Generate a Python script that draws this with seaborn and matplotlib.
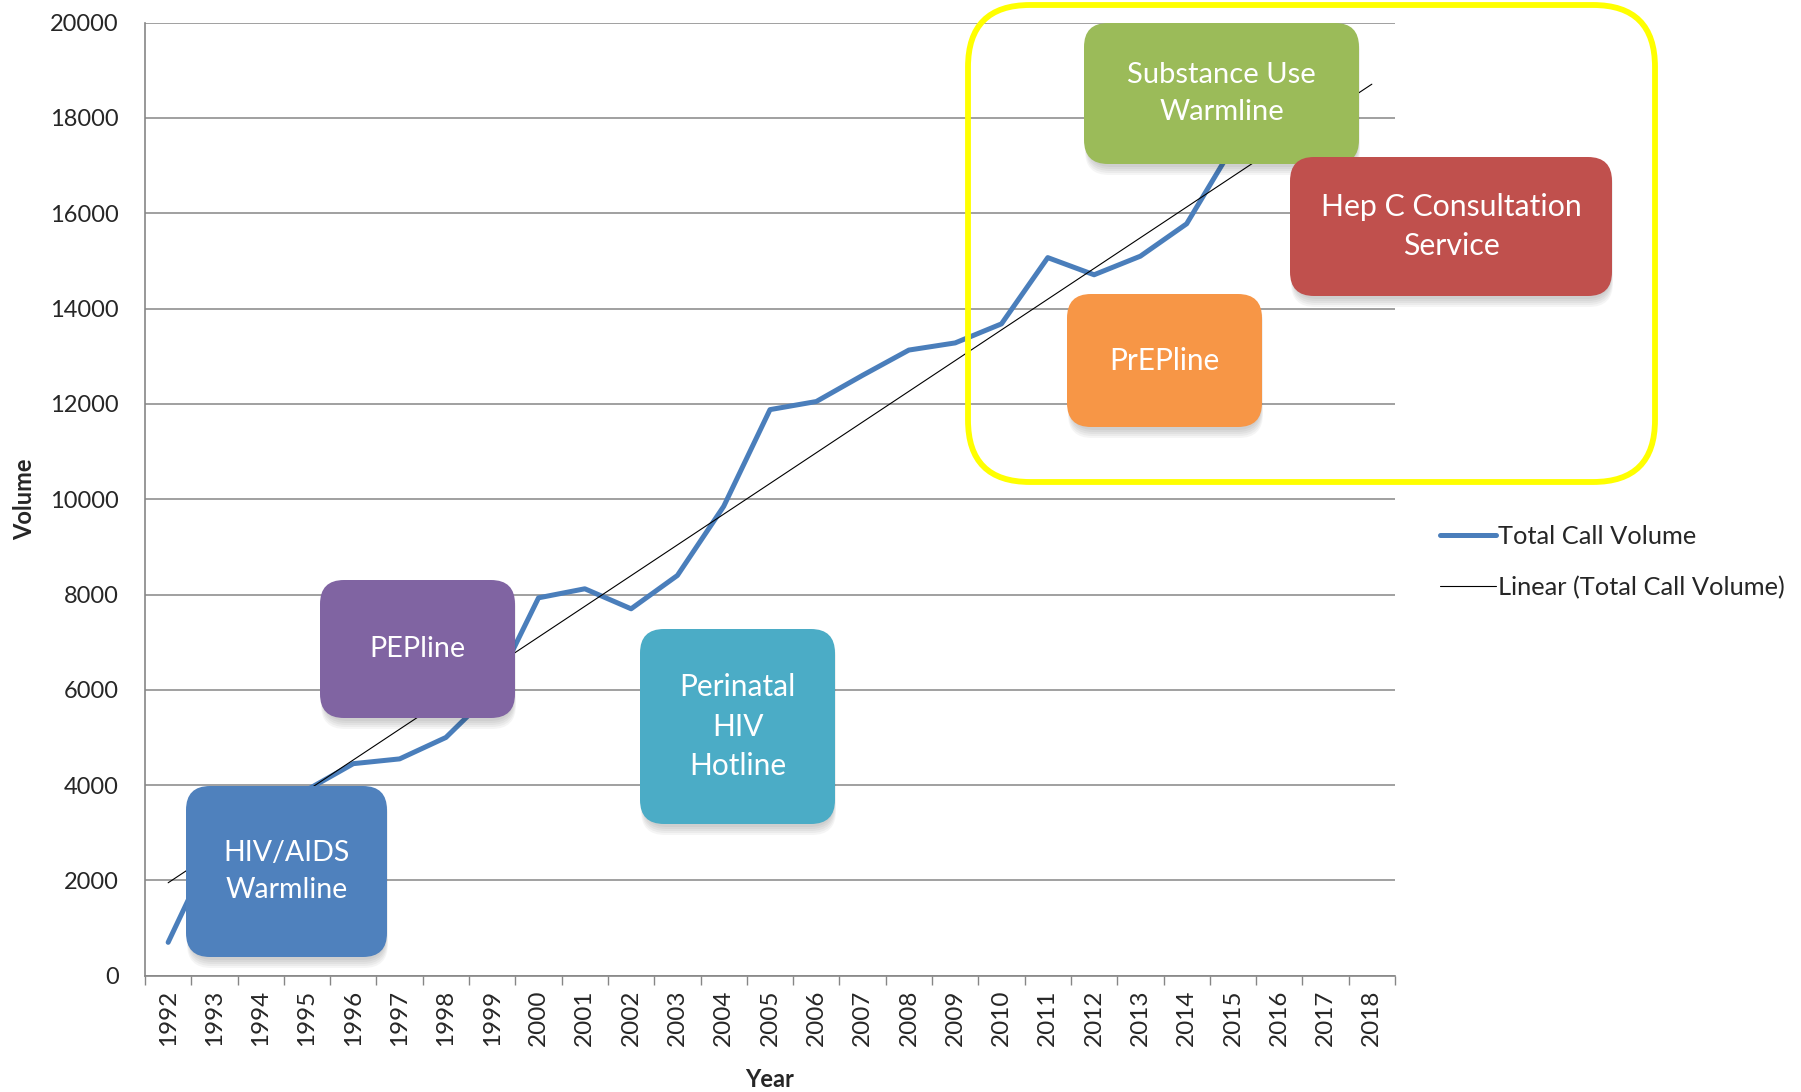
import matplotlib
matplotlib.use("Agg")
import matplotlib.pyplot as plt
from matplotlib.patches import FancyBboxPatch
import seaborn as sns

# data
years = list(range(1992, 2016))
call_volume = [700, 2750, 3300, 3900, 4450, 4550, 5000, 5950, 7930, 8120,
               7700, 8400, 9850, 11880, 12050, 12600, 13130, 13280, 13680,
               15070, 14710, 15100, 15780, 17400]
axis_years = list(range(1992, 2019))
trend_years = [1992, 2018]
trend_volume = [1950, 18710]
y_ticks = list(range(0, 20001, 2000))

service_names = ["HIV/AIDS\nWarmline", "PEPline", "Perinatal\nHIV\nHotline",
                 "Substance Use\nWarmline", "Hep C Consultation\nService", "PrEPline"]
service_colors = ["#4F81BD", "#8064A2", "#4BACC6", "#9BBB59", "#C0504D", "#F79646"]

# box layout in figure pixels: x0, y0 (top), x1, y1 (bottom), font size
box_layout = [(186, 786, 387, 957, 20.5),
              (320, 580, 515, 718, 20.7),
              (640, 629, 835, 824, 21.5),
              (1084, 23, 1359, 164, 21),
              (1290, 157, 1612, 296, 21.8),
              (1067, 294, 1262, 427, 21.4)]

W, H = 1801, 1092
sns.set_theme(style="white")
plt.rcParams['font.family'] = ['Lato', 'DejaVu Sans']

fig = plt.figure(figsize=(W / 100, H / 100), dpi=100)
ax = fig.add_axes([145 / W, 1 - 975.7 / H, 1250 / W, 953 / H])

sns.lineplot(x=years, y=call_volume, ax=ax, color="#4A7EBB", linewidth=3.6,
             label="Total Call Volume")
sns.lineplot(x=trend_years, y=trend_volume, ax=ax, color="black", linewidth=0.8,
             label="Linear (Total Call Volume)")

ax.set_xlim(1991.5, 2018.5)
ax.set_ylim(0, 20000)
ax.set_yticks(y_ticks)
ax.set_yticklabels([str(v) for v in y_ticks])
ax.set_xticks(axis_years)
ax.set_xticklabels([str(y) for y in axis_years], rotation=90)
ax.set_xticks([y - 0.5 for y in axis_years] + [axis_years[-1] + 0.5], minor=True)

ax.yaxis.grid(True, color="#868686", linewidth=1.1)
ax.set_axisbelow(True)
for s in ["top", "right"]:
    ax.spines[s].set_visible(False)
for s in ["left", "bottom"]:
    ax.spines[s].set_color("#868686")
    ax.spines[s].set_linewidth(1.2)

ax.tick_params(axis="y", length=0, labelsize=17, pad=19)
ax.tick_params(axis="x", which="major", length=0, labelsize=17.5, pad=10)
ax.tick_params(axis="x", which="minor", length=6.5, width=1, color="#868686", bottom=True)

ax.set_xlabel("Year", fontsize=17, fontweight="bold")
ax.set_ylabel("Volume", fontsize=17, fontweight="bold")
ax.xaxis.set_label_coords(0.5, -0.097)
ax.yaxis.set_label_coords(-0.087, 0.5)

ax.legend(loc="upper left", bbox_to_anchor=(1427 / W, 1 - 512 / H),
          bbox_transform=fig.transFigure, frameon=False, fontsize=18.3,
          handlelength=2.2, handletextpad=0.1, labelspacing=1.1, borderpad=0)

# overlay in pixel coords for the service boxes
ov = fig.add_axes([0, 0, 1, 1])
ov.set_xlim(0, W)
ov.set_ylim(H, 0)
ov.axis("off")


def rounded(x0, y0, x1, y1, r, **kw):
    return FancyBboxPatch((x0, y0), x1 - x0, y1 - y0,
                          boxstyle=f"round,pad=0,rounding_size={r}", **kw)


for name, col, (x0, y0, x1, y1, fs) in zip(service_names, service_colors, box_layout):
    # soft shadow, mostly below the box
    for k in [8, 6, 4, 2, 0]:
        ov.add_patch(rounded(x0 + 3 - k / 4, y0 + 4, x1 - 1 + k / 4, y1 + 3 + k,
                             24, facecolor="black", edgecolor="none", alpha=0.04))
    ov.add_patch(rounded(x0, y0, x1, y1, 24, facecolor=col, edgecolor="none"))
    ov.text((x0 + x1) / 2, (y0 + y1) / 2, name, color="white", fontsize=fs,
            ha="center", va="center", linespacing=1.5)

# yellow highlight around the recent services
ov.add_patch(rounded(968, 5, 1655, 482, 62, facecolor="none",
                     edgecolor="#FFFF00", linewidth=4.2))

fig.savefig("out.png", dpi=100)
